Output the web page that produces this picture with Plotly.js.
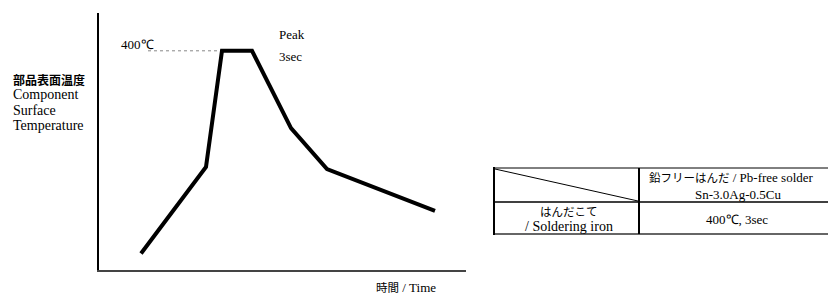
<!DOCTYPE html>
<html>
<head>
<meta charset="utf-8">
<script src="https://cdn.plot.ly/plotly-3.0.1.min.js"></script>
<style>html,body{margin:0;padding:0;background:#fff;}#chart{width:828px;height:296px;}</style>
</head>
<body>
<div id="chart"></div>
<script>
// Profile data (time in s, temperature in °C)
const profileTime = [4.2, 10.7, 12.3, 15.3, 19.2, 22.8, 33.6];
const profileTemp = [30, 188, 400, 400, 259, 184, 108];
const peakTemp = 400;
const peakLineTime = [4.9, 12.3];

// Labels
const yLabelJa = '部品表面温度';
const yLabelEn = ['Component', 'Surface', 'Temperature'];
const xLabel = ['時間', ' / Time'];
const peakLabel = ['Peak', '3sec'];
const tableHeader = ['鉛フリーはんだ', ' / Pb-free solder', 'Sn-3.0Ag-0.5Cu'];
const tableRowHead = ['はんだこて', '/ Soldering iron'];
const tableRowValue = '400℃, 3sec';

const W = 828, H = 296;
const px = x => x / W;
const py = y => 1 - y / H;
const SERIF = 'Liberation Serif';
const CJK = 'Noto Sans CJK JP';

const traces = [
  {x: peakLineTime, y: [peakTemp, peakTemp], mode: 'lines',
   line: {color: '#888', width: 1, dash: 'dot'}, hoverinfo: 'skip'},
  {x: profileTime, y: profileTemp, mode: 'lines',
   line: {color: '#000', width: 4}, hoverinfo: 'skip'}
];

function ann(text, x, y, opts) {
  return Object.assign({text: text, x: px(x), y: py(y), xref: 'paper', yref: 'paper',
    showarrow: false, xanchor: 'left', yanchor: 'middle',
    font: {family: SERIF, size: 13, color: '#000'}}, opts || {});
}
const cjkSpan = t => '<span style="font-family:Noto Sans CJK JP;font-size:11.5px">' + t + '</span>';
const big = {family: SERIF, size: 14, color: '#000'};

const annotations = [
  ann(yLabelJa, 11, 79, {font: {family: CJK, size: 12, color: '#000', weight: 'bold'}}),
  ann(yLabelEn[0], 11, 94, {font: big}),
  ann(yLabelEn[1], 11, 110, {font: big}),
  ann(yLabelEn[2], 11, 125, {font: big}),
  ann(peakTemp + '℃', 119, 45),
  ann(peakLabel[0], 277, 34),
  ann(peakLabel[1], 277, 57),
  ann(cjkSpan(xLabel[0]) + xLabel[1], 406, 287, {xanchor: 'center'}),
  ann(cjkSpan(tableHeader[0]) + tableHeader[1], 647, 177),
  ann(tableHeader[2], 738, 194, {xanchor: 'center'}),
  ann(tableRowHead[0], 569, 211, {xanchor: 'center', font: {family: CJK, size: 11.5, color: '#000'}}),
  ann(tableRowHead[1], 569, 226, {xanchor: 'center', font: big}),
  ann(tableRowValue, 737, 219, {xanchor: 'center'})
];

function line(x0, y0, x1, y1, w, c) {
  return {type: 'line', xref: 'paper', yref: 'paper', x0: px(x0), y0: py(y0), x1: px(x1), y1: py(y1),
    line: {color: c || '#000', width: w || 1}};
}
const shapes = [
  line(494, 168, 840, 168, 1),
  line(494, 202, 840, 202, 1.5),
  line(494, 234, 840, 234, 1.5, '#333'),
  line(494, 167, 494, 235, 2),
  line(639, 168, 639, 234, 2),
  line(495, 169, 638, 201, 1)
];

const layout = {
  width: W, height: H,
  margin: {l: 0, r: 0, t: 0, b: 0},
  paper_bgcolor: '#fff', plot_bgcolor: '#fff',
  showlegend: false,
  xaxis: {domain: [px(99), px(466)], range: [0, 36.7], showgrid: false, zeroline: false,
    showticklabels: false, ticks: '', showline: true, linecolor: '#444', linewidth: 2, fixedrange: true},
  yaxis: {domain: [py(270), py(13)], range: [0, 469], showgrid: false, zeroline: false,
    showticklabels: false, ticks: '', showline: true, linecolor: '#000', linewidth: 2, fixedrange: true},
  annotations: annotations,
  shapes: shapes
};

Plotly.newPlot('chart', traces, layout, {staticPlot: true, displayModeBar: false});
</script>
</body>
</html>
